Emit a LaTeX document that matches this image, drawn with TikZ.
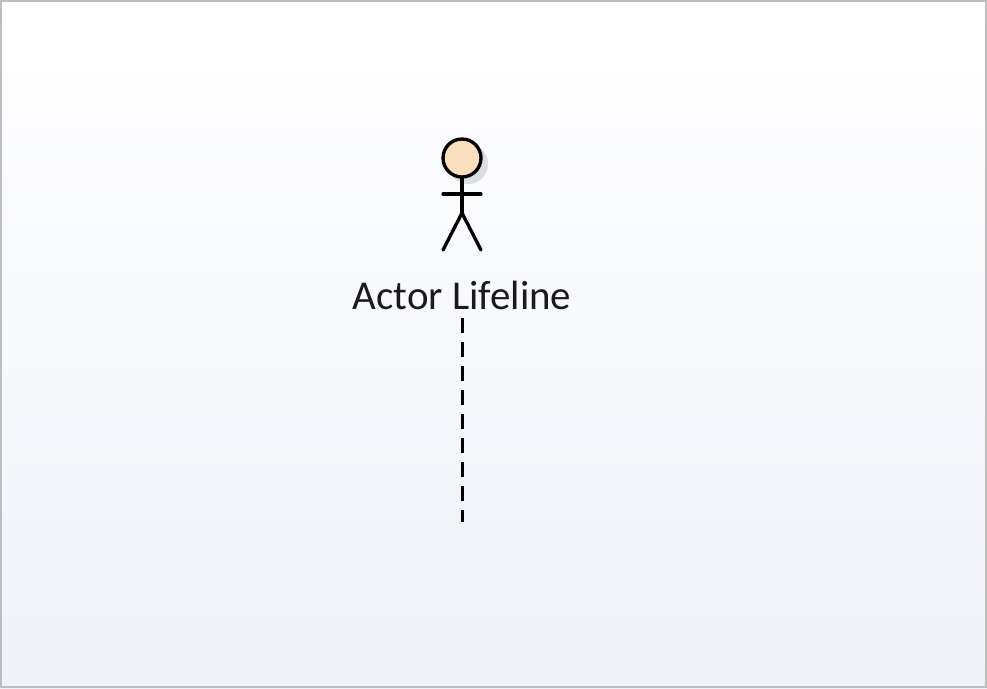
\documentclass[tikz,border=0pt]{standalone}
\usepackage{fontspec}
\setmainfont{Carlito}
\usetikzlibrary{positioning}
\definecolor{framegray}{HTML}{BEBEBE}
\definecolor{pagebottom}{HTML}{EEF1F8}
\definecolor{headfill}{HTML}{FADFBE}
\definecolor{headshadow}{HTML}{DCDDE0}
\definecolor{labeltext}{HTML}{1A1A1A}
\tikzset{
    actorline/.style={draw=black, line width=2.5pt, line cap=round},
    lifeline/.style={draw=black, line width=2.25pt, dash pattern=on 11.25pt off 6.75pt},
    actorlabel/.style={text=labeltext, font=\fontsize{30.7}{32}\selectfont, inner sep=0pt, minimum height=34.5pt}
}

\begin{document}
\begin{tikzpicture}[x=0.75pt, y=-0.75pt]
    \useasboundingbox (0,0) rectangle (987,688);

    % Background
    \shade[top color=white, bottom color=pagebottom] (0,0) rectangle (987,688);
    \draw[framegray, line width=1.5pt] (1,1) rectangle (986,687);

    % Actor
    \fill[headshadow] (468,164) circle (20);
    \node[circle, draw=black, fill=headfill, line width=2.5pt, minimum size=28.5pt, inner sep=0pt] (head) at (462,158) {};
    \coordinate (hip) at (462,213);
    \coordinate (armleft) at (443,194);
    \coordinate (armright) at (481,194);
    \coordinate (footleft) at (443,250);
    \coordinate (footright) at (481,250);
    \draw[actorline] (head.south) -- (hip);
    \draw[actorline] (armleft) -- (armright);
    \draw[actorline] (footleft) -- (hip) -- (footright);

    % Label and lifeline
    \node[actorlabel] (label) at (462,295) {Actor Lifeline};
    \coordinate (lifeend) at (462,522);
    \draw[lifeline] (label.south) -- (lifeend);
\end{tikzpicture}
\end{document}
